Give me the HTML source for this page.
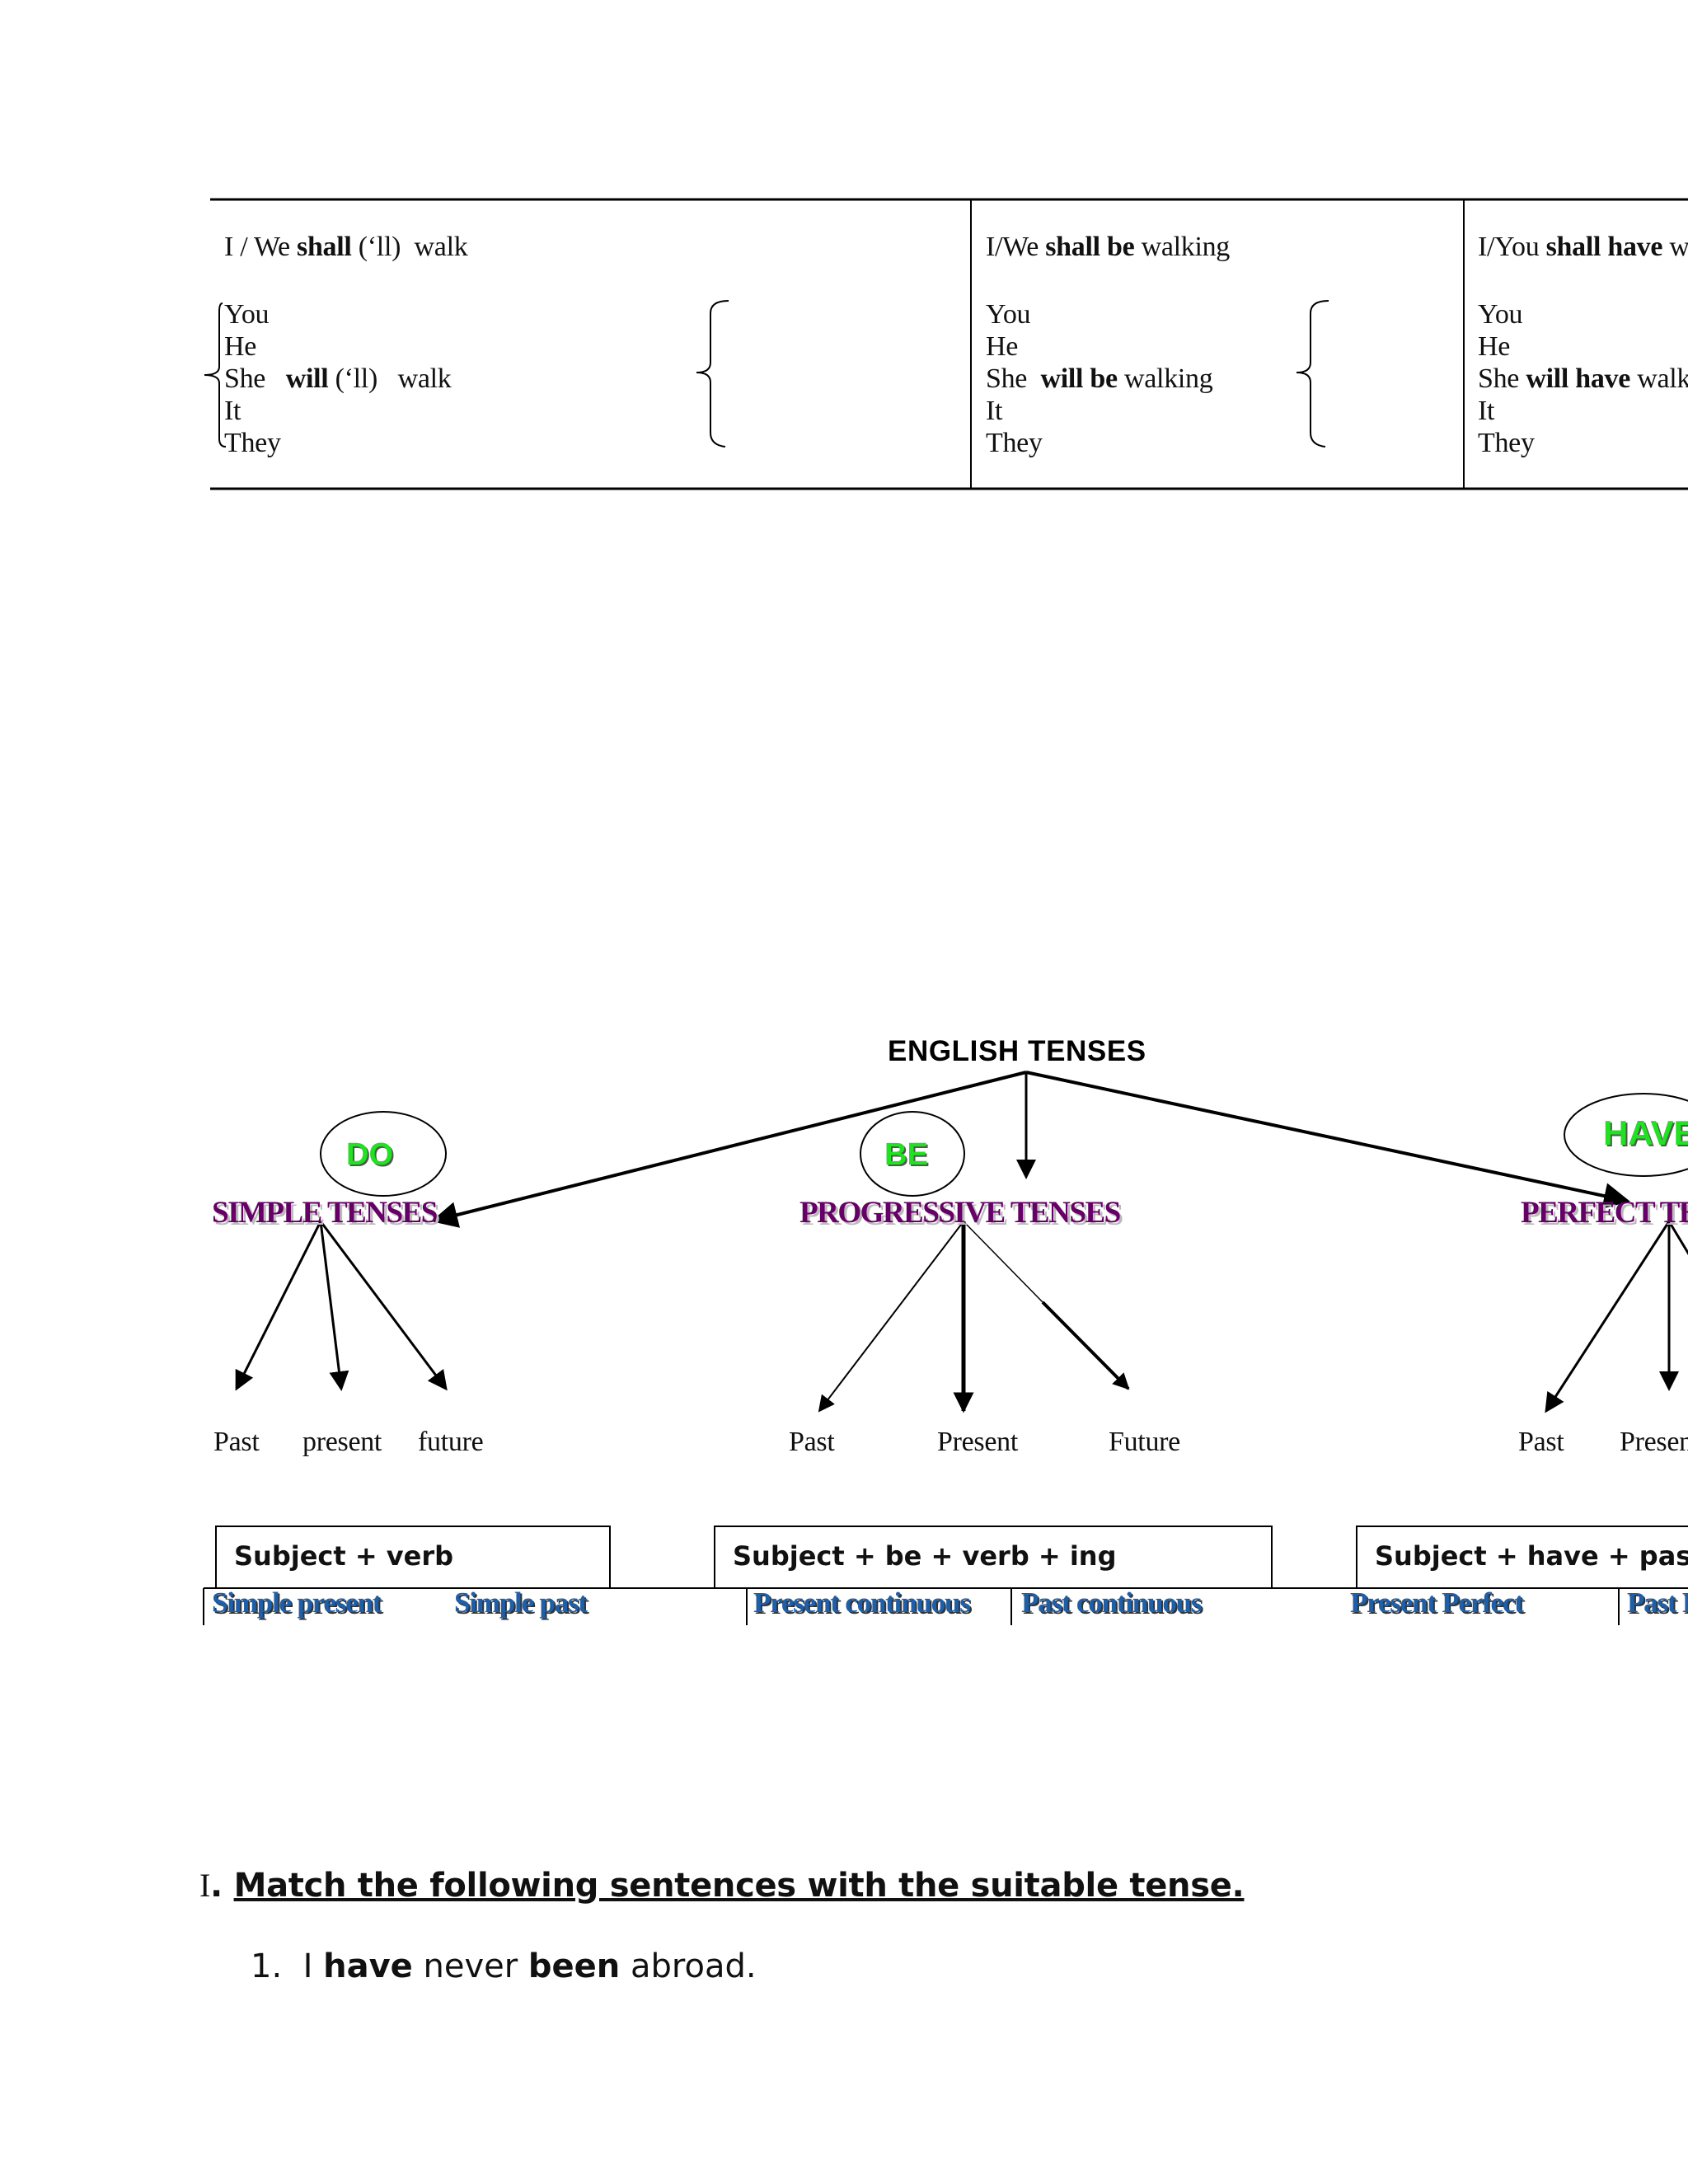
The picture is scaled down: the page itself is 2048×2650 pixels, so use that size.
<!DOCTYPE html>
<html><head><meta charset="utf-8"><style>
body{margin:0;width:2048px;height:2650px;background:#fff;position:relative;overflow:hidden}
.t{position:absolute;white-space:nowrap;line-height:1}
.s{font-family:"Liberation Serif",serif;font-size:34px;letter-spacing:-0.3px;color:#111}
.p{font-family:"Liberation Serif",serif;font-weight:bold;font-size:37px;letter-spacing:-1.5px;color:#660066;text-shadow:3px 3px 0 #bbb}
.b{font-family:"Liberation Serif",serif;font-weight:bold;font-size:35px;letter-spacing:-1.2px;color:#1f5fa8;text-shadow:2px 2px 0 #333}
.g{font-family:"Liberation Sans",sans-serif;font-weight:bold;font-size:38px;color:#22e022;text-shadow:2px 2px 0 #555}
.f{font-family:"DejaVu Sans",sans-serif;font-weight:bold;font-size:32px;color:#111}
</style></head><body>
<svg width="2048" height="2650" style="position:absolute;left:0;top:0">
<defs><marker id="a" markerWidth="8" markerHeight="8" refX="7" refY="4" orient="auto" markerUnits="strokeWidth"><path d="M0,0 L8,4 L0,8 z" fill="#000"/></marker>
<marker id="a2" markerWidth="5" markerHeight="5" refX="4.5" refY="2.5" orient="auto" markerUnits="strokeWidth"><path d="M0,0 L5,2.5 L0,5 z" fill="#000"/></marker>
<marker id="a3" markerWidth="10" markerHeight="10" refX="9" refY="5" orient="auto" markerUnits="strokeWidth"><path d="M0,0 L10,5 L0,10 z" fill="#000"/></marker></defs>
<g stroke="#000" fill="none">
<line x1="255" y1="242" x2="2048" y2="242" stroke-width="3"/>
<line x1="255" y1="593" x2="2048" y2="593" stroke-width="3"/>
<line x1="1178" y1="242" x2="1178" y2="593" stroke-width="2"/>
<line x1="1776" y1="242" x2="1776" y2="593" stroke-width="2"/>
<path d="M270,368 Q266,368 266,378 L266,445 Q266,455 248,455 Q266,455 266,465 L266,532 Q266,542 274,542" stroke-width="2"/>
<path d="M884,365 Q862,365 862,380 L862,440 Q862,452 845,452 Q862,452 862,464 L862,525 Q862,540 880,542" stroke-width="2"/>
<path d="M1612,365 Q1590,365 1590,380 L1590,440 Q1590,452 1573,452 Q1590,452 1590,464 L1590,525 Q1590,540 1608,542" stroke-width="2"/>
<line x1="1245" y1="1301" x2="527" y2="1481" stroke-width="4" marker-end="url(#a)"/>
<line x1="1245" y1="1301" x2="1245" y2="1428" stroke-width="3" marker-end="url(#a)"/>
<line x1="1245" y1="1301" x2="1974" y2="1457" stroke-width="4" marker-end="url(#a)"/>
<ellipse cx="465" cy="1400" rx="76" ry="51" stroke-width="2"/>
<ellipse cx="1107" cy="1400" rx="63" ry="51" stroke-width="2"/>
<ellipse cx="1994" cy="1377" rx="96" ry="50" stroke-width="2"/>
<line x1="389" y1="1482" x2="287" y2="1685" stroke-width="3" marker-end="url(#a)"/>
<line x1="389" y1="1482" x2="414" y2="1685" stroke-width="3" marker-end="url(#a)"/>
<line x1="389" y1="1482" x2="541" y2="1685" stroke-width="3" marker-end="url(#a)"/>
<line x1="1169" y1="1482" x2="994" y2="1712" stroke-width="2" marker-end="url(#a3)"/>
<line x1="1169" y1="1482" x2="1169" y2="1712" stroke-width="5" marker-end="url(#a2)"/>
<line x1="1169" y1="1482" x2="1265" y2="1580" stroke-width="1.5"/>
<line x1="1265" y1="1580" x2="1369" y2="1685" stroke-width="4" marker-end="url(#a2)"/>
<line x1="2025" y1="1482" x2="1876" y2="1712" stroke-width="3" marker-end="url(#a)"/>
<line x1="2025" y1="1482" x2="2025" y2="1685" stroke-width="3" marker-end="url(#a)"/>
<line x1="2025" y1="1482" x2="2060" y2="1540" stroke-width="3"/>
<rect x="262" y="1852" width="478" height="75" stroke-width="2"/>
<rect x="867" y="1852" width="676" height="75" stroke-width="2"/>
<rect x="1646" y="1852" width="450" height="75" stroke-width="2"/>
<line x1="247" y1="1927" x2="2048" y2="1927" stroke-width="2"/>
<line x1="247" y1="1927" x2="247" y2="1972" stroke-width="2"/>
<line x1="906" y1="1927" x2="906" y2="1972" stroke-width="2"/>
<line x1="1227" y1="1927" x2="1227" y2="1972" stroke-width="2"/>
<line x1="1964" y1="1927" x2="1964" y2="1972" stroke-width="2"/>
</g></svg>

<div class="t s" style="left:272px;top:283px">I / We <b>shall</b> (‘ll)&nbsp; walk</div>
<div class="t s" style="left:272px;top:362px;line-height:39px">You<br>He<br>She&nbsp;&nbsp; <b>will</b> (‘ll)&nbsp;&nbsp; walk<br>It<br>They</div>
<div class="t s" style="left:1196px;top:283px">I/We <b>shall be</b> walking</div>
<div class="t s" style="left:1196px;top:362px;line-height:39px">You<br>He<br>She&nbsp; <b>will be</b> walking<br>It<br>They</div>
<div class="t s" style="left:1793px;top:283px">I/You <b>shall have</b> walked</div>
<div class="t s" style="left:1793px;top:362px;line-height:39px">You<br>He<br>She <b>will have</b> walked<br>It<br>They</div>

<div class="t" style="left:1077px;top:1258px;font-family:'Liberation Sans',sans-serif;font-weight:bold;font-size:35px;letter-spacing:0.6px">ENGLISH TENSES</div>
<div class="t g" style="left:420px;top:1382px">DO</div>
<div class="t g" style="left:1073px;top:1382px">BE</div>
<div class="t g" style="left:1945px;top:1354px;font-size:42px">HAVE</div>
<div class="t p" style="left:257px;top:1453px">SIMPLE TENSES</div>
<div class="t p" style="left:970px;top:1453px">PROGRESSIVE TENSES</div>
<div class="t p" style="left:1845px;top:1453px">PERFECT TENSES</div>
<div class="t s" style="left:259px;top:1733px">Past</div>
<div class="t s" style="left:367px;top:1733px">present</div>
<div class="t s" style="left:507px;top:1733px">future</div>
<div class="t s" style="left:957px;top:1733px">Past</div>
<div class="t s" style="left:1137px;top:1733px">Present</div>
<div class="t s" style="left:1345px;top:1733px">Future</div>
<div class="t s" style="left:1842px;top:1733px">Past</div>
<div class="t s" style="left:1965px;top:1733px">Present</div>
<div class="t f" style="left:284px;top:1872px">Subject + verb</div>
<div class="t f" style="left:889px;top:1872px">Subject + be + verb + ing</div>
<div class="t f" style="left:1668px;top:1872px">Subject + have + past</div>
<div class="t b" style="left:257px;top:1927px">Simple present</div>
<div class="t b" style="left:551px;top:1927px">Simple past</div>
<div class="t b" style="left:914px;top:1927px">Present continuous</div>
<div class="t b" style="left:1239px;top:1927px">Past continuous</div>
<div class="t b" style="left:1638px;top:1927px">Present Perfect</div>
<div class="t b" style="left:1974px;top:1927px">Past Perfect</div>

<div class="t" style="left:242px;top:2268px;font-family:'DejaVu Sans',sans-serif;font-size:40px;color:#111;letter-spacing:-0.3px"><span style="font-family:'Liberation Serif',serif">I</span><b>. <u>Match the following sentences with the suitable tense.</u></b></div>
<div class="t" style="left:304px;top:2366px;font-family:'DejaVu Sans',sans-serif;font-size:40px;color:#111">1.&nbsp; I <b>have</b> never <b>been</b> abroad.</div>
</body></html>
